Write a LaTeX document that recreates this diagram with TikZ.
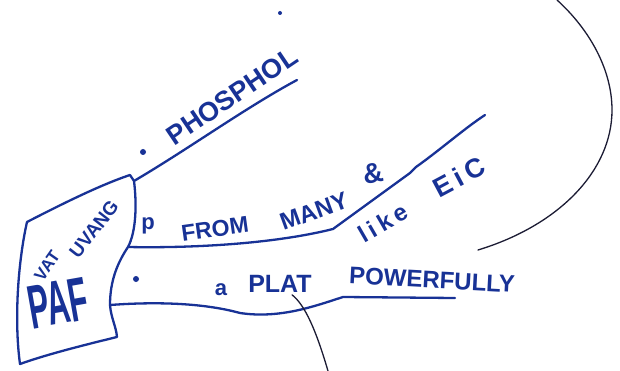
\documentclass[tikz,border=0pt]{standalone}
\usepackage{fontspec}
\setmainfont{Liberation Sans}
\definecolor{ink}{RGB}{24,50,150}
\definecolor{pen}{RGB}{28,28,52}
\begin{document}
\begin{tikzpicture}[x=1pt,y=-1pt,
  inkline/.style={draw=ink, line width=2.3pt, line cap=round, line join=round},
  thinpen/.style={draw=pen, line width=1.3pt, line cap=round},
  hand/.style={text=ink, inner sep=0pt, font=\fontsize{#1}{#1}\selectfont\bfseries},
  spaced/.style={font=\fontsize{#1}{#1}\selectfont\bfseries\addfontfeatures{LetterSpace=18}},
  inkdot/.style={circle, fill=ink, inner sep=0pt, minimum size=#1}]
\useasboundingbox (0,0) rectangle (620,371);
\fill[white] (0,0) rectangle (620,371);

% central box
\coordinate (btl) at (27,222);
\coordinate (btr) at (130,175);
\coordinate (topout) at (134,181);
\coordinate (midout) at (128,247);
\coordinate (botout) at (110,305);
\coordinate (bbr) at (117,337);
\coordinate (bbl) at (20,364);
\draw[inkline] (btl) .. controls (60,205) and (100,185) .. (btr) -- (topout)
  .. controls (137,205) and (136,232) .. (midout)
  .. controls (118,262) and (110,280) .. (botout)
  .. controls (111,318) and (116,326) .. (bbr)
  .. controls (80,346) and (45,355) .. (bbl)
  .. controls (14,320) and (18,262) .. (btl) -- cycle;

\node[hand=17, rotate=55] (vat) at (47,266) {VAT};
\node[hand=19, rotate=52] (uvang) at (94,229) {UVANG};
\node[hand=62, rotate=10, xscale=0.5] (paf) at (58,303) {PAF};

% top branch
\coordinate (topend) at (297,80);
\draw[inkline] (topout) .. controls (190,148) and (245,108) .. (topend);
\node[inkdot=6pt] (b1) at (143,152) {};
\node[hand=27, rotate=34] (phos) at (232,96) {PHOSPHOL};
\node[inkdot=4pt] (idot) at (280,13) {};

% middle branch
\coordinate (m1) at (333,229);
\coordinate (m2) at (410,173);
\coordinate (m3) at (416,167);
\coordinate (midend) at (485,115);
\draw[inkline] (midout) .. controls (175,248) and (265,246) .. (m1) -- (m2) -- (m3)
  .. controls (440,150) and (465,128) .. (midend);
\node[hand=22] (b2) at (148,226) {p};
\node[hand=23, rotate=8] (from) at (215,229) {FROM};
\node[hand=24, rotate=20] (many) at (314,211) {MANY};
\node[hand=28, rotate=10] (amp) at (373,173) {\&};
\node[hand=24, spaced=24, rotate=30] (like) at (383,223) {like};
\node[hand=27, spaced=27, rotate=28] (eic) at (459,177) {EiC};

% bottom branch
\coordinate (l1) at (240,313);
\coordinate (l2) at (343,297);
\coordinate (botend) at (455,298);
\draw[inkline] (botout) .. controls (150,302) and (200,302) .. (l1)
  .. controls (280,319) and (315,306) .. (l2) -- (botend);
\node[inkdot=6pt] (b3) at (136,279) {};
\node[hand=22] (a) at (221,290) {a};
\node[hand=25] (plat) at (280,284) {PLAT};
\node[hand=24, rotate=-3] (pow) at (432,280) {POWERFULLY};

% thin pen lines
\coordinate (ptrend) at (328,371);
\draw[thinpen] (plat.south) ++(12,2) coordinate (ptrstart) .. controls (305,305) and (316,330) .. (ptrend);
\coordinate (arcstart) at (557,0);
\coordinate (arcmid) at (612,110);
\coordinate (arcend) at (478,250);
\draw[thinpen] (arcstart) .. controls (590,30) and (612,70) .. (arcmid)
  .. controls (612,170) and (560,225) .. (arcend);
\end{tikzpicture}
\end{document}
